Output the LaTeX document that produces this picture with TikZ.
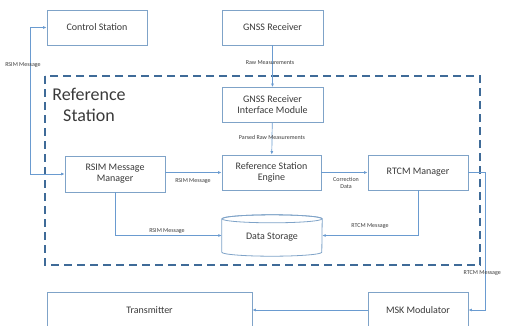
\documentclass[tikz,border=0pt]{standalone}
\usepackage{fontspec}
\setmainfont{Carlito}
\usepackage{tikz}
\usetikzlibrary{arrows.meta,positioning}

\definecolor{boxline}{HTML}{7FA3C8}
\definecolor{arrline}{HTML}{6A9BD0}
\definecolor{stline}{HTML}{3F6B98}
\definecolor{txt}{HTML}{3A3A3A}

\tikzset{
  block/.style={draw=boxline, line width=0.8pt, fill=white, text=txt,
    minimum width=100pt, minimum height=35pt, align=center, inner sep=1pt,
    font=\fontsize{10}{11}\selectfont},
  link/.style={draw=arrline, line width=0.7pt, -{Latex[length=3.5pt,width=3pt]}},
  msg/.style={text=txt, align=center, inner sep=0.5pt,
    font=\fontsize{6}{6.5}\selectfont}
}

\begin{document}
\begin{tikzpicture}[x=1pt, y=-1pt]

  \useasboundingbox (0,0) rectangle (506,325);

  % reference station frame
  \draw[stline, line width=1.8pt, dash pattern=on 8pt off 5pt] (45,76) rectangle (480,265);
  \node[text=txt, align=center, font=\fontsize{18}{21}\selectfont] (title) at (89,105) {Reference\\Station};

  \node[block] (ctrl) at (97,27.5) {Control Station};
  \node[block, minimum width=101pt] (gnss) at (272.5,27.5) {GNSS Receiver};
  \node[block, minimum width=101pt] (gim) at (272.5,105) {GNSS Receiver\\Interface Module};
  \node[block, minimum width=99pt] (rse) at (271.5,172.5) {Reference Station\\Engine};
  \node[block, minimum height=36pt] (rsim) at (115,174) {RSIM Message\\Manager};
  \node[block] (rtcm) at (418,172.5) {RTCM Manager};
  \node[block, minimum width=205pt, minimum height=36pt] (tx) at (149.5,310) {Transmitter};
  \node[block] (msk) at (418,310) {MSK Modulator};

  % data storage (drum)
  \node[minimum width=100pt, minimum height=41pt] (ds) at (272,235.5) {};
  \draw[boxline, line width=0.8pt, fill=white]
    ([yshift=-4pt]ds.north west) -- ([yshift=4pt]ds.south west)
    arc[start angle=180, end angle=360, x radius=50pt, y radius=4pt]
    -- ([yshift=-4pt]ds.north east)
    arc[start angle=0, end angle=180, x radius=50pt, y radius=4pt];
  \draw[boxline, line width=0.8pt] ([yshift=-4pt]ds.north)
    ellipse[x radius=50pt, y radius=4pt];
  \node[text=txt, font=\fontsize{10}{11}\selectfont] (dslabel) at ([yshift=-2pt]ds.center) {Data Storage};

  \draw[link, {Latex[length=3.5pt,width=3pt]}-{Latex[length=3.5pt,width=3pt]}]
    (ctrl.west) -- ++(-16,0) |- (rsim.west); %% ctrl<->rsim
  \node[msg] at (23,65) {RSIM Message};

  \draw[link] (gnss) -- (gim); %% gnss->gim
  \node[msg] at (270,63) {Raw Measurements};

  \draw[link] (gim) -- (rse); %% gim->rse
  \node[msg] at (272,137) {Parsed Raw Measurements};

  \draw[link] (rsim.east |- rse.west) -- (rse.west); %% rsim->rse
  \node[msg] at (193,181) {RSIM Message};

  \draw[link] (rse) -- (rtcm); %% rse->rtcm
  \node[msg] at (346,183) {Correction\\Data};

  \draw[link] (rsim.south) |- (ds.west); %% rsim->ds
  \node[msg] at (167,231) {RSIM Message};

  \draw[link] (rtcm.south) |- (ds.east); %% rtcm->ds
  \node[msg] at (370,226) {RTCM Message};

  \draw[link] (rtcm.east) -- ++(17,0) |- (msk.east); %% rtcm->msk
  \node[msg, anchor=west] at (463,273) {RTCM Message};

  \draw[link] (msk) -- (tx); %% msk->tx

\end{tikzpicture}
\end{document}
